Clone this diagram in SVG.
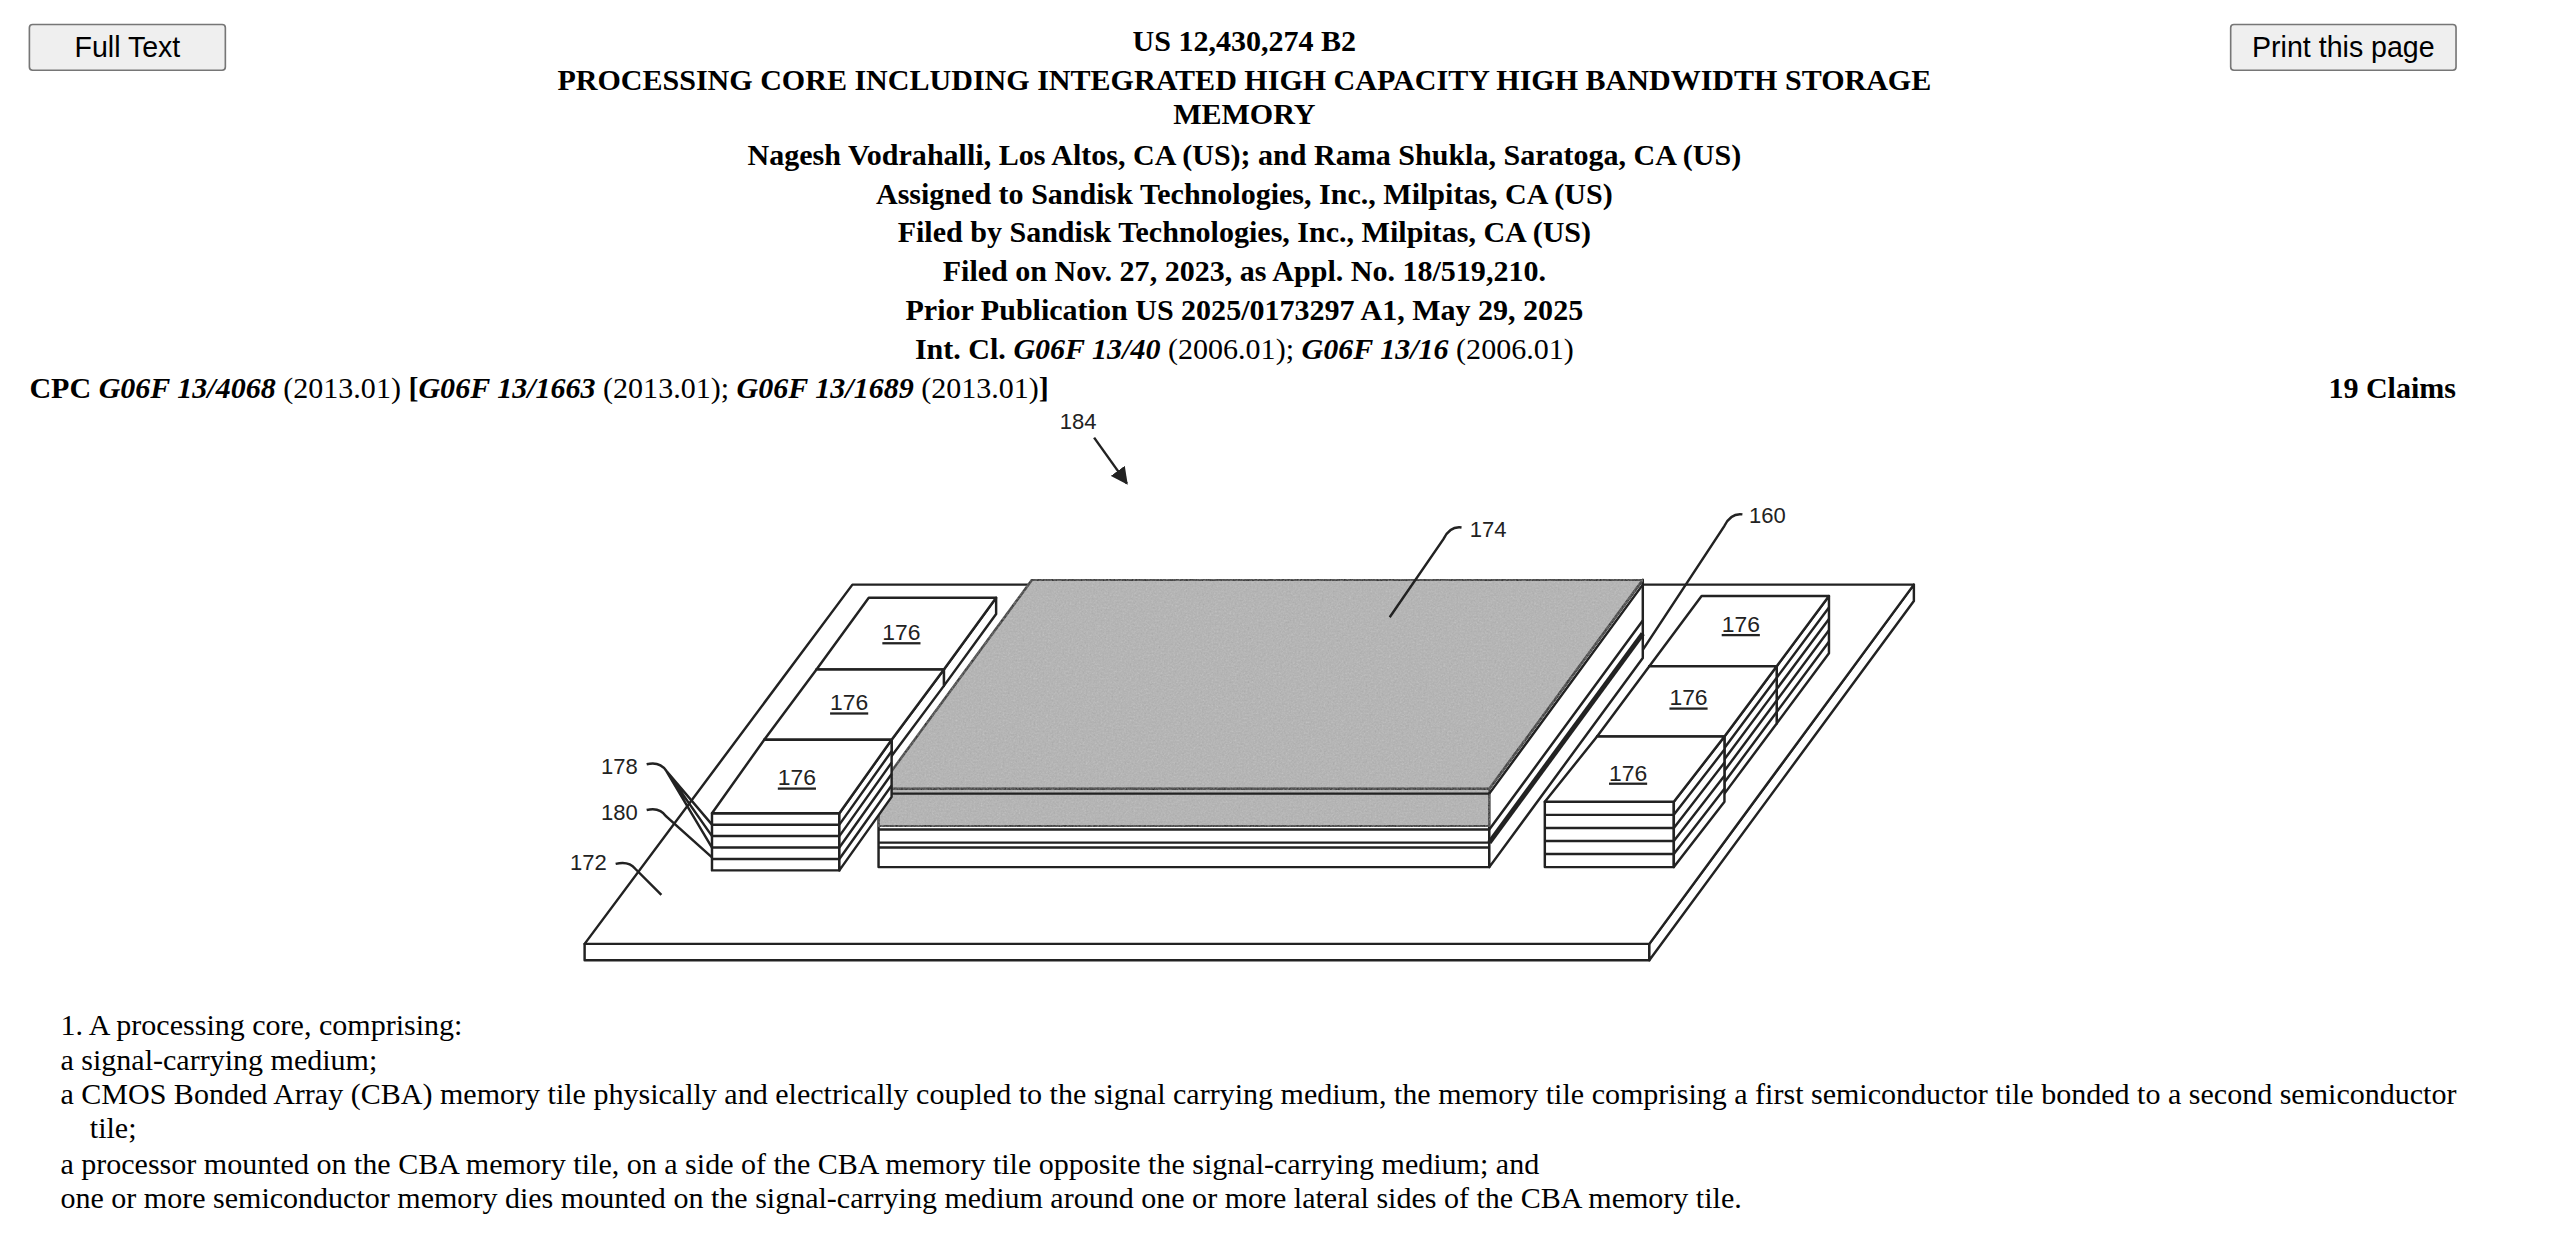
<svg xmlns="http://www.w3.org/2000/svg" width="2560" height="1246" viewBox="0 0 2560 1246">
<style>
.h{font-family:"Liberation Serif",serif;font-weight:bold;font-size:18.4px;text-anchor:middle;fill:#000}
.hs{text-anchor:start}
.he{text-anchor:end}
.t{font-family:"Liberation Serif",serif;font-size:18.4px;fill:#000}
.b{font-family:"Liberation Sans",Arial,sans-serif;font-size:17.5px;text-anchor:middle;fill:#000}
.l{font-family:"Liberation Sans",Arial,sans-serif;font-size:13.5px;fill:#222}
.u{font-family:"Liberation Sans",Arial,sans-serif;font-size:14px;fill:#222;text-anchor:middle;text-decoration:underline}
.s{fill:#fff;stroke:#222;stroke-width:1.5;stroke-linejoin:round}
.g{fill:#b4b4b4;stroke:#222;stroke-width:1.5;stroke-linejoin:round}
.ln{fill:none;stroke:#222;stroke-width:1.5}
.btn{fill:#efefef;stroke:#767676;stroke-width:1}
</style>
<defs>
<filter id="noise" x="0" y="0" width="100%" height="100%">
<feTurbulence type="fractalNoise" baseFrequency="0.9" numOctaves="2" result="n"/>
<feColorMatrix type="saturate" values="0" in="n" result="m"/>
<feComponentTransfer in="m" result="c"><feFuncA type="table" tableValues="0 0.35"/></feComponentTransfer>
<feComposite in="c" in2="SourceGraphic" operator="in" result="d"/>
<feMerge><feMergeNode in="SourceGraphic"/><feMergeNode in="d"/></feMerge>
</filter>
<marker id="ah" viewBox="0 0 10 10" refX="9" refY="5" markerWidth="7" markerHeight="7" orient="auto"><path d="M0,0 L10,5 L0,10 z" fill="#222"/></marker>
</defs>
<rect width="2560" height="1246" fill="#fff"/>
<g transform="scale(1.633)">
<g id="buttons">
<rect class="btn" x="18" y="15" width="120" height="28" rx="2"/><text class="b" x="78" y="35">Full Text</text>
<rect class="btn" x="1366" y="15" width="138" height="28" rx="2"/><text class="b" x="1435" y="35">Print this page</text>
</g>
<g id="header">
<text class="h" x="762" y="31">US 12,430,274 B2</text>
<text class="h" x="762" y="55">PROCESSING CORE INCLUDING INTEGRATED HIGH CAPACITY HIGH BANDWIDTH STORAGE</text>
<text class="h" x="762" y="76">MEMORY</text>
<text class="h" x="762" y="101">Nagesh Vodrahalli, Los Altos, CA (US); and Rama Shukla, Saratoga, CA (US)</text>
<text class="h" x="762" y="125">Assigned to Sandisk Technologies, Inc., Milpitas, CA (US)</text>
<text class="h" x="762" y="148">Filed by Sandisk Technologies, Inc., Milpitas, CA (US)</text>
<text class="h" x="762" y="172">Filed on Nov. 27, 2023, as Appl. No. 18/519,210.</text>
<text class="h" x="762" y="196">Prior Publication US 2025/0173297 A1, May 29, 2025</text>
<text class="h" x="762" y="220">Int. Cl. <tspan font-style="italic">G06F 13/40</tspan><tspan font-weight="normal"> (2006.01); </tspan><tspan font-style="italic">G06F 13/16</tspan><tspan font-weight="normal"> (2006.01)</tspan></text>
<text class="h hs" x="18" y="244">CPC <tspan font-style="italic">G06F 13/4068</tspan><tspan font-weight="normal"> (2013.01) </tspan>[<tspan font-style="italic">G06F 13/1663</tspan><tspan font-weight="normal"> (2013.01); </tspan><tspan font-style="italic">G06F 13/1689</tspan><tspan font-weight="normal"> (2013.01)</tspan>]</text>
<text class="h he" x="1504" y="244">19 Claims</text>
</g>
<g id="board">
<path class="s" d="M358,578 L1010,578 L1010,588 L358,588 Z"/>
<path class="s" d="M1010,578 L1172,358 L1172,368 L1010,588 Z"/>
<path class="s" d="M522,358 L1172,358 L1010,578 L358,578 Z"/>
</g>
<g id="processor">
<path class="s" d="M538,483 L912,483 L912,531 L538,531 Z"/>
<path class="s" d="M912,483 L1006,355 L1006,403 L912,531 Z"/>
<path class="g" filter="url(#noise)" d="M538,483 L912,483 L912,506 L538,506 Z"/>
<path class="g" filter="url(#noise)" d="M632,355 L1006,355 L912,483 L538,483 Z"/>
<path class="ln" d="M538,486 H912 M538,508 H912 M538,516 H912 M538,519 H912 M912,486 L1006,358 M912,508 L1006,380 M912,516 L1006,388"/>
<path d="M912,516 L1006,388" stroke="#222" stroke-width="3"/>
</g>
<g id="memL1">
<path class="s" d="M500,410 L578,410 L578,420 L500,420 Z"/>
<path class="s" d="M578,410 L610,366 L610,376 L578,420 Z"/>
<path class="s" d="M532,366 L610,366 L578,410 L500,410 Z"/>
<text class="u" x="552" y="392">176</text>
</g>
<g id="memL2">
<path class="s" d="M468,453 L546,453 L546,463 L468,463 Z"/>
<path class="s" d="M546,453 L578,410 L578,420 L546,463 Z"/>
<path class="s" d="M500,410 L578,410 L546,453 L468,453 Z"/>
<text class="u" x="520" y="435">176</text>
</g>
<g id="memL3">
<path class="s" d="M436,498 L514,498 L514,533 L436,533 Z"/>
<path class="s" d="M514,498 L546,453 L546,488 L514,533 Z"/>
<path class="s" d="M468,453 L546,453 L514,498 L436,498 Z"/>
<path class="ln" d="M436,505 H514 M436,512 H514 M436,519 H514 M436,526 H514 M514,505 L546,460 M514,512 L546,467 M514,519 L546,474 M514,526 L546,481"/>
<text class="u" x="488" y="481">176</text>
</g>
<g id="memR1">
<path class="s" d="M1010,408 L1088,408 L1088,418 L1010,418 Z"/>
<path class="s" d="M1088,408 L1120,365 L1120,400 L1088,443 Z"/>
<path class="s" d="M1042,365 L1120,365 L1088,408 L1010,408 Z"/>
<path class="ln" d="M1088,415 L1120,372 M1088,422 L1120,379 M1088,429 L1120,386 M1088,436 L1120,393"/>
<text class="u" x="1066" y="387">176</text>
</g>
<g id="memR2">
<path class="s" d="M978,451 L1056,451 L1056,461 L978,461 Z"/>
<path class="s" d="M1056,451 L1088,408 L1088,443 L1056,486 Z"/>
<path class="s" d="M1010,408 L1088,408 L1056,451 L978,451 Z"/>
<path class="ln" d="M1056,458 L1088,415 M1056,465 L1088,422 M1056,472 L1088,429 M1056,479 L1088,436"/>
<text class="u" x="1034" y="432">176</text>
</g>
<g id="memR3">
<path class="s" d="M946,491 L1025,491 L1025,531 L946,531 Z"/>
<path class="s" d="M1025,491 L1056,451 L1056,491 L1025,531 Z"/>
<path class="s" d="M978,451 L1056,451 L1025,491 L946,491 Z"/>
<path class="ln" d="M946,499 H1025 M946,507 H1025 M946,515 H1025 M946,523 H1025 M1025,499 L1056,459 M1025,507 L1056,467 M1025,515 L1056,475 M1025,523 L1056,483"/>
<text class="u" x="997" y="478">176</text>
</g>
<g id="connectors">
<path class="ln" d="M670,268 L690,296" marker-end="url(#ah)"/>
<path class="ln" d="M895,323 Q888,322 884,330 L851,378"/>
<path class="ln" d="M1067,315 Q1060,314 1056,322 L1006,398"/>
<path class="ln" d="M396,468 Q404,466 408,472 L436,505 M408,472 L436,512 M408,472 L436,519"/>
<path class="ln" d="M396,496 Q404,494 408,500 L436,525"/>
<path class="ln" d="M377,529 Q385,527 389,532 L405,548"/>
</g>
<g id="labels">
<text class="l" x="649" y="263">184</text>
<text class="l" x="900" y="329">174</text>
<text class="l" x="1071" y="320">160</text>
<text class="l" x="368" y="474">178</text>
<text class="l" x="368" y="502">180</text>
<text class="l" x="349" y="533">172</text>
</g>
<g id="claims">
<text class="t" x="37" y="634">1. A processing core, comprising:</text>
<text class="t" x="37" y="655">a signal-carrying medium;</text>
<text class="t" x="37" y="676">a CMOS Bonded Array (CBA) memory tile physically and electrically coupled to the signal carrying medium, the memory tile comprising a first semiconductor tile bonded to a second semiconductor</text>
<text class="t" x="55" y="697">tile;</text>
<text class="t" x="37" y="719">a processor mounted on the CBA memory tile, on a side of the CBA memory tile opposite the signal-carrying medium; and</text>
<text class="t" x="37" y="740">one or more semiconductor memory dies mounted on the signal-carrying medium around one or more lateral sides of the CBA memory tile.</text>
</g>
</g>
</svg>
